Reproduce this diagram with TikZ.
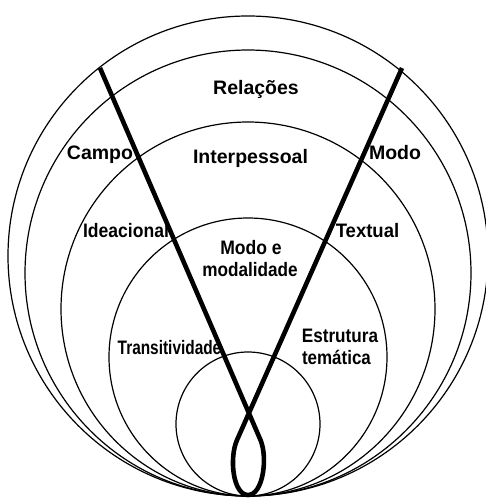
\documentclass[tikz,border=0pt]{standalone}
\usepackage{fontspec}
\setmainfont{Liberation Sans}
\usepackage{graphicx}
\begin{document}
\begin{tikzpicture}[x=1pt,y=-1pt,
  ring/.style={draw=black,line width=1.2pt},
  vband/.style={draw=black,line width=4.6pt,line cap=butt,line join=round},
  lab/.style={font=\fontsize{19.5}{21}\selectfont\bfseries,anchor=base,inner sep=0pt}]
\useasboundingbox (0,0) rectangle (485,498);
\fill[white] (0,0) rectangle (485,498);
% nested circles, all touching at the bottom
\draw[ring] (248,256) circle[radius=240];
\draw[ring] (248,273) circle[radius=223];
\draw[ring] (248,309) circle[radius=187];
\draw[ring] (248,357) circle[radius=139];
\draw[ring] (248,424) circle[radius=72];
% V with loop
\coordinate (vl) at (100,68);
\coordinate (vr) at (402,68);
\coordinate (ll) at (260.5,440);
\coordinate (lr) at (237,440);
\coordinate (lb) at (248,495);
\draw[vband] (vl) -- (ll) .. controls (268,458) and (263,495) .. (lb)
  .. controls (233,495) and (229,458) .. (lr) -- (vr);
% labels
\node[lab] (rel) at (256,94) {Relações};
\node[lab] (inter) at (250.5,163) {Interpessoal};
\node[lab] (campo) at (100,159) {Campo};
\node[lab] (modo) at (395,159) {Modo};
\node[lab] (idea) at (126,237) {\scalebox{0.9}[1]{Ideacional}};
\node[lab] (text) at (367.5,237) {\scalebox{0.95}[1]{Textual}};
\node[lab] (modoe) at (251,254) {\scalebox{0.9}[1]{Modo e}};
\node[lab] (modal) at (250,276) {\scalebox{0.88}[1]{modalidade}};
\node[lab] (trans) at (169.5,354) {\scalebox{0.79}[1]{Transitividade}};
\node[lab] (estr) at (340,342) {\scalebox{0.88}[1]{Estrutura}};
\node[lab] (tema) at (336.5,364) {\scalebox{0.87}[1]{temática}};
\end{tikzpicture}
\end{document}
